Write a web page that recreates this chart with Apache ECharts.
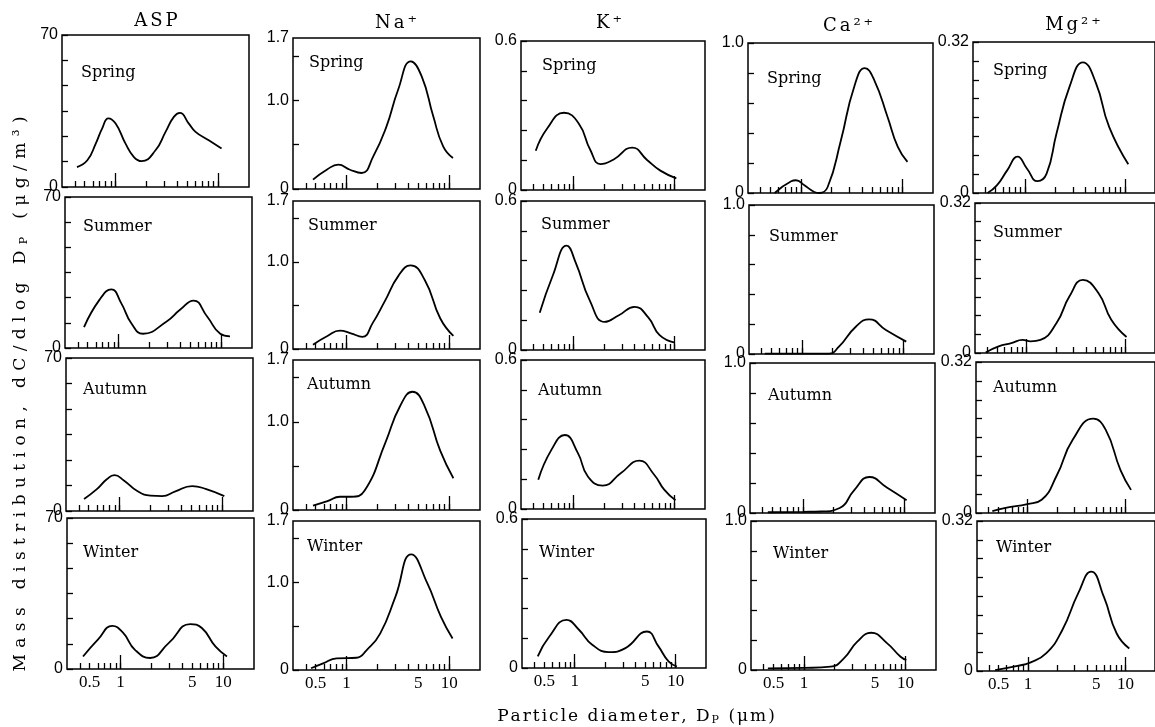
<!DOCTYPE html>
<html><head><meta charset="utf-8">
<script src="https://cdn.jsdelivr.net/npm/echarts@6/dist/echarts.min.js"></script>
<style>html,body{margin:0;padding:0;background:#fff}#c{width:1155px;height:727px}</style>
</head><body><div id="c"></div>
<script>
// ---------- tick / label definitions ----------
const species = ['ASP', 'Na⁺', 'K⁺', 'Ca²⁺', 'Mg²⁺'];
const seasons = ['Spring', 'Summer', 'Autumn', 'Winter'];
const yMax = [70, 1.7, 0.6, 1.0, 0.32];
const yTickCount = [6, 0, 5, 5, 8];           // equal divisions (0 = use custom list)
const naTicks = [0, 0.5, 1.0, 1.5];
const yLabelValues = [[0, 70], [0, 1.0, 1.7], [0, 0.6], [0, 1.0], [0, 0.32]];
const yLabelDigits = [0, 1, 1, 1, 2];
const xTicks = [0.4, 0.5, 0.6, 0.7, 0.8, 0.9, 1, 2, 3, 4, 5, 6, 7, 8, 9, 10];
const xMajorTicks = [1, 10];
const xLabels = [0.5, 1, 5, 10];
const xMin = 0.3, xMax = 20;

// ---------- data: [particle diameter (um), dC/dlogDp] ----------
const ASP_spring = [[0.42,9.2],[0.53,12.3],[0.64,20],[0.74,27],[0.85,31.6],[1.0,29.2],[1.25,20],[1.51,13.8],[1.79,11.9],[2.45,16.9],[3.07,25.4],[3.7,32.3],[4.23,34.1],[5.18,29.2],[6.02,25.4],[8.1,21.5],[10.8,17.7]];
const ASP_summer = [[0.46,9.7],[0.65,22.3],[0.85,27.2],[1.06,20.8],[1.33,11.5],[1.73,6.6],[2.94,12.3],[3.97,17.7],[5.38,22],[7.3,14.6],[9.8,6.6],[12.2,5.4]];
const ASP_autumn = [[0.45,5.5],[0.6,10],[0.75,14.5],[0.89,16.4],[1.1,14],[1.5,9],[2.0,7],[2.6,6.8],[3.5,9],[5.1,11.4],[7,10],[10.5,6.8]];
const ASP_winter = [[0.43,5.8],[0.6,13.6],[0.83,20],[1.06,16.7],[1.38,8.9],[1.94,5.1],[2.94,12],[4.78,20.8],[6.2,19],[8.4,10.5],[10.9,5.8]];

const Na_spring = [[0.47,0.105],[0.64,0.217],[0.83,0.274],[1.08,0.217],[1.4,0.18],[1.82,0.367],[2.45,0.705],[3.18,1.118],[4.23,1.437],[5.4,1.268],[7.0,0.818],[8.74,0.48],[10.9,0.349]];
const Na_summer = [[0.47,0.05],[0.65,0.15],[0.86,0.21],[1.1,0.18],[1.42,0.14],[1.8,0.3],[2.36,0.55],[3.2,0.84],[4.2,0.96],[5.8,0.79],[8.2,0.35],[11,0.15]];
const Na_autumn = [[0.47,0.05],[0.65,0.1],[0.86,0.15],[1.1,0.15],[1.5,0.22],[2.4,0.77],[3.3,1.17],[4.4,1.34],[5.8,1.17],[8.2,0.67],[11,0.36]];
const Na_winter = [[0.45,0.02],[0.59,0.076],[0.8,0.133],[1.25,0.14],[1.57,0.228],[2.13,0.418],[2.99,0.835],[4.27,1.32],[6.12,0.99],[8.3,0.61],[10.8,0.36]];

const K_spring = [[0.42,0.158],[0.545,0.248],[0.8,0.311],[1.12,0.268],[1.46,0.161],[1.84,0.104],[2.49,0.123],[3.79,0.171],[5.33,0.121],[7.22,0.078],[10.4,0.047]];
const K_summer = [[0.46,0.15],[0.62,0.3],[0.85,0.42],[1.05,0.35],[1.44,0.2],[2.03,0.113],[2.8,0.14],[4.0,0.174],[5.5,0.13],[7.1,0.06],[10,0.03]];
const K_autumn = [[0.445,0.118],[0.6,0.238],[0.815,0.298],[1.1,0.225],[1.38,0.131],[1.94,0.094],[2.94,0.145],[4.46,0.195],[6.27,0.138],[7.88,0.078],[10.2,0.035]];
const K_winter = [[0.43,0.047],[0.56,0.127],[0.83,0.194],[1.1,0.154],[1.49,0.094],[2.18,0.064],[3.18,0.08],[5.19,0.147],[6.76,0.087],[8.5,0.027],[10.3,0.006]];

const Ca_spring = [[0.55,0],[0.8,0.078],[0.89,0.085],[1.08,0.051],[1.35,0.007],[1.51,0],[1.83,0.04],[2.47,0.35],[3.34,0.707],[4.26,0.833],[5.28,0.751],[7.13,0.507],[9.0,0.307],[11.2,0.207]];
const Ca_summer = [[0.43,0.003],[1.0,0.003],[1.84,0.003],[2.31,0.049],[3.39,0.183],[4.59,0.233],[6.71,0.161],[10.65,0.083]];
const Ca_autumn = [[0.45,0.005],[1.0,0.008],[1.5,0.01],[2.3,0.033],[3.2,0.153],[4.5,0.24],[6.7,0.17],[10.5,0.085]];
const Ca_winter = [[0.44,0.011],[1.0,0.014],[1.83,0.022],[2.47,0.078],[3.35,0.19],[4.59,0.25],[6.61,0.179],[8.95,0.089],[10.2,0.067]];

const Mg_spring = [[0.42,0],[0.52,0.016],[0.66,0.048],[0.84,0.077],[1.04,0.052],[1.33,0.025],[1.64,0.041],[2.06,0.126],[2.79,0.226],[3.79,0.277],[5.12,0.233],[6.94,0.14],[10.8,0.061]];
const Mg_summer = [[0.385,0.001],[0.52,0.014],[0.7,0.021],[0.91,0.028],[1.1,0.025],[1.38,0.028],[2.01,0.064],[2.72,0.121],[3.72,0.156],[5.34,0.128],[7.21,0.071],[10.3,0.034]];
const Mg_autumn = [[0.44,0.004],[0.6,0.011],[1.0,0.019],[1.4,0.028],[2.0,0.08],[2.9,0.155],[4.7,0.2],[6.3,0.176],[8.9,0.091],[11.4,0.049]];
const Mg_winter = [[0.46,0.002],[0.78,0.011],[1.05,0.018],[1.54,0.038],[2.24,0.087],[3.27,0.166],[4.43,0.212],[5.99,0.158],[8.1,0.08],[10.9,0.048]];

const panelData = [
  [ASP_spring, ASP_summer, ASP_autumn, ASP_winter],
  [Na_spring, Na_summer, Na_autumn, Na_winter],
  [K_spring, K_summer, K_autumn, K_winter],
  [Ca_spring, Ca_summer, Ca_autumn, Ca_winter],
  [Mg_spring, Mg_summer, Mg_autumn, Mg_winter]
];

// ---------- layout (pixels) ----------
const colLeft = [[62,293,521,748,973],[65,293,521,749,975],[66,293,521,750,976],[67,293,522,751,977]];
const colWidth = [187,187,184,185,186];
const rowTop = [[35,38,41,43,42],[197,201,201,205,203],[358,360,360,363,362],[518,521,519,521,521]];
const rowBottom = [[187,189,190,193,193],[348,349,350,354,353],[511,510,509,513,513],[669,670,668,670,671]];
const seasonPos = [
  [[81,73],[309,63],[542,66],[767,79],[993,71]],
  [[83,227],[308,226],[541,225],[769,237],[993,233]],
  [[83,390],[307,385],[538,391],[768,396],[993,388]],
  [[83,553],[307,547],[539,553],[773,554],[996,548]]
];
const titlePos = [[156,21],[396,23],[609,23],[848,26],[1073,25]];

const SERIF = '"DejaVu Serif", "Liberation Serif", serif';
const chart = echarts.init(document.getElementById('c'), null, {renderer: 'canvas'});

function spacedRich(segments) {
  return segments.map(([t, s]) => Array.from(t).map(ch => '{' + s + '|' + ch + '}').join('')).join('');
}
function yTickValues(c) {
  if (c === 1) return naTicks;
  const out = [];
  for (let k = 0; k <= yTickCount[c]; k++) out.push(yMax[c] * k / yTickCount[c]);
  return out;
}

const grid = [], xAxis = [], yAxis = [], series = [], graphic = [];
for (let r = 0; r < 4; r++) {
  for (let c = 0; c < 5; c++) {
    const gi = grid.length;
    const top = rowTop[r][c], bottom = rowBottom[r][c];
    grid.push({
      left: colLeft[r][c], top: top, width: colWidth[c], height: bottom - top,
      show: true, borderColor: '#000', borderWidth: 1.5, backgroundColor: 'transparent',
      containLabel: false
    });
    const tickStyle = {color: '#000', width: 1.3};
    xAxis.push({
      type: 'log', logBase: 10, gridIndex: gi, min: xMin, max: xMax, position: 'bottom',
      axisLine: {show: false}, splitLine: {show: false}, minorTick: {show: false},
      axisTick: {show: true, inside: true, length: 6, customValues: xTicks, lineStyle: tickStyle},
      axisLabel: {show: r === 3, customValues: xLabels, formatter: v => String(v), margin: 5,
        color: '#000', fontFamily: '"Liberation Serif", serif', fontSize: 17}
    });
    xAxis.push({
      type: 'log', logBase: 10, gridIndex: gi, min: xMin, max: xMax, position: 'bottom',
      axisLine: {show: false}, splitLine: {show: false}, minorTick: {show: false},
      axisTick: {show: true, inside: true, length: 14, customValues: xMajorTicks, lineStyle: tickStyle},
      axisLabel: {show: false}
    });
    yAxis.push({
      type: 'value', gridIndex: gi, min: 0, max: yMax[c],
      axisLine: {show: false}, splitLine: {show: false},
      axisTick: {show: true, inside: true, length: 6, customValues: yTickValues(c), lineStyle: tickStyle},
      axisLabel: {customValues: yLabelValues[c], margin: 4, color: '#000',
        fontFamily: '"Liberation Sans", sans-serif', fontSize: 16,
        formatter: v => (v === 0 ? '0' : Number(v).toFixed(yLabelDigits[c]))}
    });
    series.push({
      type: 'line', xAxisIndex: 2 * gi, yAxisIndex: gi, data: panelData[c][r],
      smooth: 0.5, showSymbol: false, symbol: 'none', silent: true,
      lineStyle: {color: '#000', width: 1.8}
    });
    graphic.push({
      type: 'text', x: seasonPos[r][c][0], y: seasonPos[r][c][1], silent: true,
      style: {text: seasons[r], fill: '#000', font: '16px ' + SERIF, verticalAlign: 'middle', align: 'left'}
    });
  }
}

// column titles
species.forEach((s, c) => {
  graphic.push({
    type: 'text', x: titlePos[c][0], y: titlePos[c][1], silent: true,
    style: {
      text: spacedRich([[s, 'n']]), align: 'center', verticalAlign: 'middle',
      rich: {n: {fontFamily: SERIF, fontSize: 18, color: '#000', padding: [0, 1.5, 0, 1.5]}}
    }
  });
});

// x-axis title
graphic.push({
  type: 'text', x: 636, y: 717, silent: true,
  style: {
    text: spacedRich([['Particle diameter, D', 'n'], ['P', 's'], [' (μm)', 'n']]),
    align: 'center', verticalAlign: 'middle',
    rich: {
      n: {fontFamily: SERIF, fontSize: 17, color: '#000', padding: [0, 1, 0, 1]},
      s: {fontFamily: SERIF, fontSize: 11, color: '#000', padding: [0, 1, 0, 1], verticalAlign: 'bottom'}
    }
  }
});

// y-axis title (rotated)
graphic.push({
  type: 'text', x: 21, y: 394, rotation: Math.PI / 2, silent: true,
  style: {
    text: spacedRich([['Mass distribution, dC/dlog D', 'n'], ['P', 's'], [' (μg/m³)', 'n']]),
    align: 'center', verticalAlign: 'middle',
    rich: {
      n: {fontFamily: SERIF, fontSize: 17, color: '#000', padding: [0, 3.2, 0, 3.2]},
      s: {fontFamily: SERIF, fontSize: 11, color: '#000', padding: [0, 3.2, 0, 3.2], verticalAlign: 'bottom'}
    }
  }
});

chart.setOption({
  animation: false,
  backgroundColor: '#fff',
  grid: grid, xAxis: xAxis, yAxis: yAxis, series: series, graphic: graphic
});
</script>
</body></html>
